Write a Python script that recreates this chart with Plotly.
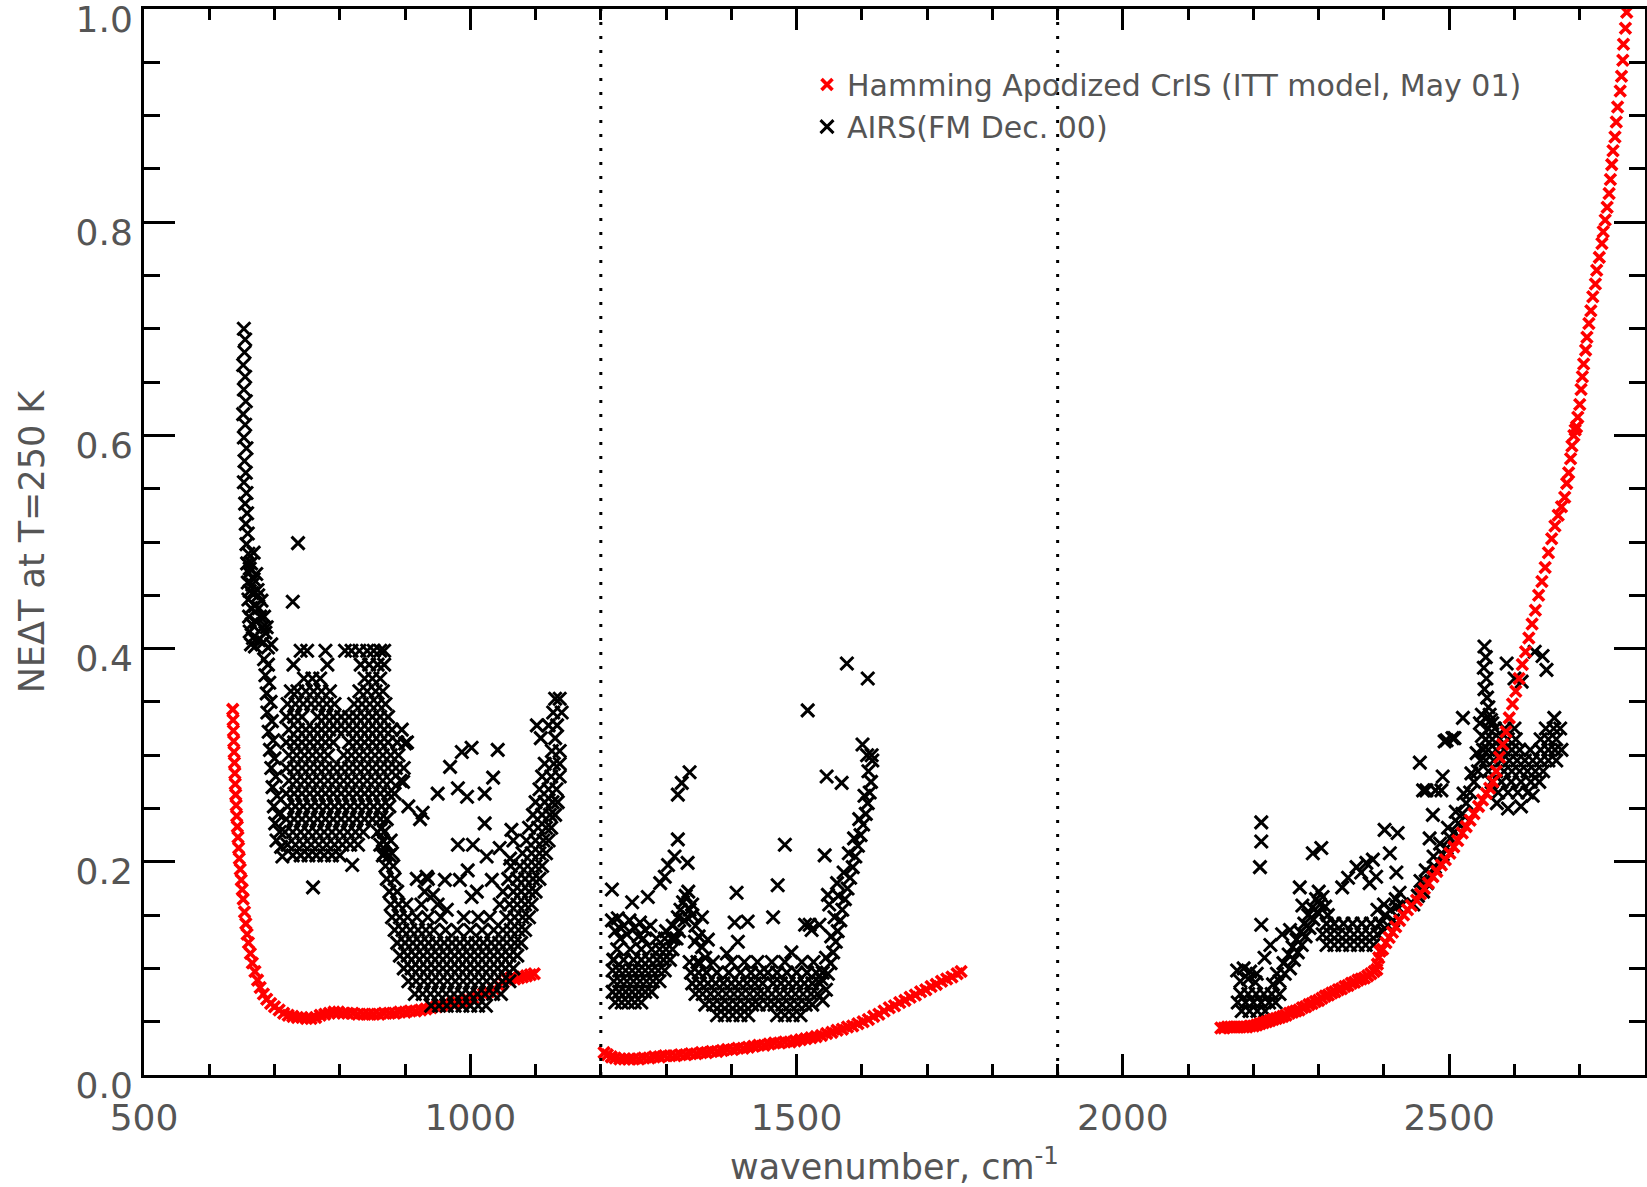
import plotly.graph_objects as go

# ---------------- CrIS (red) : (wavenumber, NEdT) ----------------
cris_band1 = [(636.0,0.343),(636.5,0.333),(637.0,0.323),(637.5,0.313),(638.0,0.303),(638.6,0.293),(639.2,0.283),(639.8,0.273),
              (640.5,0.263),(641.2,0.253),(642.0,0.243),(643.0,0.233),(644.0,0.223),(645.0,0.213),(646.0,0.203),(647.5,0.193),
              (649.0,0.183),(650.5,0.174),(652.0,0.165),(654.0,0.153),(656.0,0.142),(658.0,0.132),(660.0,0.124),(663.0,0.114),
              (666.0,0.105),(670.0,0.097),(674.0,0.089),(678.0,0.082),(683.0,0.076),(688.0,0.071),(694.0,0.067),(700,0.064),
              (707,0.061),(714,0.058),(721,0.056),(728,0.055),(735,0.054),(742,0.054),(749,0.053),(756,0.053),(763,0.054),
              (770,0.056),(777,0.057),(784,0.058),(791,0.059),(798,0.059),(805,0.058),(812,0.058),(820,0.058),(828,0.057),
              (836,0.057),(844,0.057),(852,0.057),(860,0.057),(868,0.058),(876,0.058),(884,0.058),(892,0.059),(900,0.059),
              (908,0.060),(916,0.060),(924,0.061),(932,0.062),(940,0.063),(948,0.064),(956,0.065),(964,0.066),(972,0.067),
              (980,0.068),(988,0.069),(996,0.071),(1004,0.072),(1012,0.074),(1020,0.076),(1028,0.078),(1036,0.081),
              (1044,0.084),(1050,0.087),(1056,0.090),(1062,0.091),(1068,0.090),(1074,0.091),(1080,0.092),(1086,0.093),
              (1092,0.094),(1098,0.095)]

cris_band2 = [(1205,0.021),(1210,0.019),(1216,0.017),(1222,0.016),(1229,0.015),(1236,0.015),(1243,0.015),(1250,0.015),
              (1258,0.015),(1266,0.016),(1274,0.016),(1282,0.017),(1290,0.017),(1298,0.018),(1306,0.018),(1314,0.018),
              (1322,0.019),(1330,0.019),(1338,0.020),(1346,0.020),(1354,0.021),(1362,0.021),(1370,0.022),(1378,0.022),
              (1386,0.023),(1394,0.024),(1402,0.024),(1410,0.025),(1418,0.025),(1426,0.026),(1434,0.027),(1442,0.028),
              (1450,0.028),(1458,0.029),(1466,0.030),(1474,0.030),(1482,0.031),(1490,0.031),(1498,0.032),(1506,0.033),
              (1514,0.034),(1522,0.035),(1530,0.036),(1538,0.037),(1546,0.039),(1554,0.040),(1562,0.042),(1570,0.043),
              (1578,0.045),(1586,0.046),(1594,0.048),(1602,0.050),(1610,0.052),(1618,0.055),(1626,0.057),(1634,0.060),
              (1642,0.063),(1650,0.065),(1658,0.068),(1666,0.070),(1674,0.073),(1682,0.075),(1690,0.078),(1698,0.080),
              (1706,0.083),(1714,0.085),(1722,0.088),(1730,0.090),(1738,0.092),(1746,0.095),(1752,0.097)]

cris_band3 = [(2150,0.044),(2155,0.044),(2160,0.045),(2165,0.045),(2170,0.045),(2175,0.045),(2180,0.045),(2185,0.045),
              (2190,0.045),(2195,0.046),(2200,0.046),(2205,0.047),(2210,0.048),(2215,0.049),(2220,0.050),(2225,0.051),
              (2230,0.052),(2235,0.053),(2240,0.054),(2245,0.055),(2250,0.056),(2255,0.058),(2260,0.059),(2265,0.060),
              (2270,0.061),(2275,0.063),(2280,0.064),(2285,0.066),(2290,0.067),(2295,0.069),(2300,0.070),(2305,0.072),
              (2310,0.074),(2315,0.075),(2320,0.077),(2325,0.078),(2330,0.080),(2335,0.081),(2340,0.083),(2345,0.084),
              (2350,0.086),(2355,0.087),(2360,0.089),(2365,0.090),(2370,0.091),(2375,0.093),(2380,0.095),(2385,0.097),
              (2389,0.099),(2390,0.104),(2392,0.110),(2394,0.116),(2398,0.118),(2403,0.124),(2408,0.129),(2413,0.134),
              (2418,0.139),(2424,0.145),(2430,0.150),(2436,0.155),(2442,0.159),(2450,0.164),(2456,0.170),(2462,0.175),
              (2468,0.180),(2475,0.186),(2481,0.191),(2488,0.197),(2494,0.202),(2501,0.208),(2507,0.214),(2513,0.220),
              (2520,0.227),(2526,0.233),(2532,0.239),(2538,0.245),(2545,0.252),(2551,0.258),(2557,0.264),(2562,0.269),
              (2567,0.275),(2572,0.285),(2577,0.298),(2582,0.310),(2587,0.322),(2592,0.335),(2597,0.348),(2602,0.360),
              (2607,0.372),(2612,0.385),(2617,0.397),(2622,0.410),(2627,0.423),(2632,0.436),(2637,0.450),(2642,0.463),
              (2647,0.476),(2652,0.490),(2657,0.503),(2662,0.515),(2667,0.525),(2672,0.533),(2677,0.542),(2680,0.555),
              (2683,0.565),(2686,0.578),(2688,0.590),(2691,0.600),(2693,0.605),(2695,0.608),(2697,0.617),(2700,0.629),
              (2702,0.643),(2704,0.655),(2706,0.667),(2709,0.680),(2711,0.692),(2714,0.705),(2717,0.717),(2720,0.730),
              (2724,0.742),(2726,0.755),(2730,0.767),(2734,0.780),(2736,0.791),(2739,0.802),(2742,0.814),(2745,0.827),
              (2747,0.840),(2749,0.854),(2751,0.867),(2754,0.880),(2756,0.894),(2758,0.908),(2762,0.923),(2764,0.937),
              (2766,0.952),(2767,0.967),(2770,0.982),(2772,0.997)]

# ---------------- AIRS (black) : (wavenumber, NEdT) ----------------
airs_band1_points = [
    (653,0.700),(655,0.690),(654,0.678),(652,0.666),(655,0.655),(653,0.643),(656,0.632),(652,0.620),(655,0.610),
    (653,0.598),(657,0.588),(654,0.576),(656,0.565),(653,0.556),(657,0.546),(655,0.536),(658,0.527),(656,0.517),
    (659,0.508),(657,0.498),(660,0.489),(658,0.480),(661,0.471),(659,0.462),(662,0.454),(660,0.446),(664,0.438),
    (661,0.430),(665,0.423),(662,0.416),(667,0.410),(664,0.404),(670,0.402),(676,0.408),(683,0.406),(690,0.401),
    (695,0.404),(668,0.490),(672,0.470),(675,0.450),(678,0.430),(682,0.420),(670,0.440),(666,0.460),(664,0.480),
    (672,0.425),(686,0.415),(662,0.475),(668,0.465),(674,0.455),(680,0.445),(666,0.452),(684,0.430),(676,0.438),
    (688,0.420),
    (684,0.390),(690,0.385),(686,0.375),(692,0.368),(688,0.358),(694,0.350),(689,0.340),(696,0.332),(691,0.322),
    (698,0.314),(693,0.305),(700,0.297),(695,0.288),(702,0.280),(697,0.270),(704,0.262),(699,0.252),(706,0.245),
    (701,0.236),(708,0.228),(703,0.220),(710,0.214),(712,0.205),
    (736,0.499),(728,0.444),(759,0.176),(819,0.197),
    (900,0.311),(897,0.275),(927,0.246),(950,0.264),(969,0.289),(987,0.303),(1002,0.307),(1042,0.305),(981,0.269),
    (995,0.261),(1022,0.264),(1035,0.279),(1022,0.236),(981,0.216),(1004,0.216),(1025,0.205),(1045,0.213),
    (1063,0.230),(1061,0.203),(964,0.155),(933,0.186),(961,0.183),(984,0.183),(996,0.192),(1033,0.183),(943,0.169),
    (1002,0.167),(1012,0.148),
]
airs_band1_rows = [
    (0.398, [740, 750, 778, 808, 818, 830, 842, 852, 862, 868]),
    (0.385, [729, 781, 832, 845, 858, 868]),
    (0.372, [745, 758, 770, 838, 850, 862]),
    (0.360, [725, 735, 748, 760, 772, 785, 830, 842, 855, 866]),
    (0.348, [720, 732, 744, 756, 768, 780, 792, 822, 834, 846, 858, 870]),
    (0.336, [718, 730, 742, 766, 778, 790, 802, 814, 826, 838, 850, 862, 874]),
    (0.324, [722, 736, 748, 760, 772, 784, 796, 808, 820, 832, 844, 856, 868, 880, 895]),
    (0.312, [718, 730, 742, 754, 766, 778, 790, 814, 826, 838, 850, 862, 874, 888, 903]),
    (0.300, [722, 734, 746, 758, 770, 782, 806, 818, 830, 842, 854, 866, 878, 890]),
    (0.288, [718, 730, 742, 754, 766, 778, 790, 802, 814, 826, 838, 850, 862, 874, 886, 898]),
    (0.276, [722, 734, 746, 758, 770, 782, 794, 806, 818, 830, 842, 854, 866, 878, 893]),
    (0.264, [718, 730, 742, 754, 766, 778, 790, 802, 814, 826, 838, 850, 862, 874, 884]),
    (0.252, [720, 732, 744, 756, 768, 780, 792, 804, 816, 828, 840, 852, 864, 876, 905]),
    (0.240, [718, 730, 742, 754, 766, 778, 790, 802, 814, 826, 838, 850, 862, 872, 923]),
    (0.228, [716, 728, 740, 752, 764, 776, 788, 800, 812, 824, 836, 858, 868]),
    (0.216, [720, 732, 744, 756, 768, 780, 792, 804, 816, 828, 862, 872]),
    (0.206, [728, 740, 752, 764, 776, 788, 800, 866, 876]),
    (0.065, [940, 952, 964, 976, 988, 1000, 1012, 1024]),
    (0.076, [915, 927, 939, 951, 963, 975, 987, 999, 1011, 1023, 1035, 1047]),
    (0.088, [905, 917, 929, 941, 953, 965, 977, 989, 1001, 1013, 1025, 1037, 1049, 1060]),
    (0.100, [898, 910, 922, 934, 946, 958, 970, 982, 994, 1006, 1018, 1030, 1042, 1054, 1066]),
    (0.112, [892, 904, 916, 928, 940, 952, 964, 976, 988, 1000, 1012, 1024, 1036, 1048, 1060, 1072]),
    (0.124, [888, 900, 912, 924, 936, 948, 960, 972, 984, 996, 1008, 1020, 1032, 1044, 1056, 1068, 1078]),
    (0.136, [884, 896, 908, 920, 932, 944, 962, 980, 1000, 1018, 1036, 1050, 1062, 1074, 1084]),
    (0.148, [880, 892, 904, 918, 935, 955, 990, 1030, 1055, 1068, 1080, 1090]),
    (0.160, [878, 890, 902, 925, 950, 1045, 1060, 1072, 1084, 1094]),
    (0.172, [876, 888, 930, 1010, 1050, 1066, 1078, 1090, 1100]),
    (0.184, [872, 884, 918, 935, 1058, 1072, 1084, 1096, 1106]),
    (0.196, [870, 882, 1062, 1076, 1088, 1100, 1110]),
    (0.208, [868, 880, 1080, 1094, 1106, 1116]),
    (0.220, [866, 878, 1066, 1086, 1100, 1112, 1120]),
    (0.232, [864, 1090, 1104, 1116, 1124]),
    (0.244, [1096, 1110, 1122, 1130]),
    (0.256, [1100, 1114, 1126, 1134]),
    (0.268, [1106, 1120, 1132]),
    (0.280, [1110, 1124, 1137]),
    (0.292, [1114, 1128, 1137]),
    (0.304, [1125, 1137]),
    (0.316, [1108, 1130]),
    (0.328, [1102, 1120, 1133]),
    (0.340, [1127, 1140]),
    (0.353, [1130, 1137]),
]

airs_band2_points = [
    (1217,0.145),(1226,0.147),(1235,0.140),(1244,0.145),(1252,0.138),(1260,0.143),(1268,0.136),(1276,0.140),
    (1222,0.135),(1240,0.132),(1258,0.130),
    (1300,0.135),(1310,0.140),(1318,0.148),(1322,0.155),(1326,0.162),(1330,0.168),(1334,0.172),(1312,0.128),
    (1320,0.135),(1328,0.145),(1336,0.155),(1340,0.160),
    (1217,0.174),(1248,0.162),(1272,0.167),(1291,0.180),(1298,0.186),(1303,0.197),(1313,0.205),(1318,0.221),
    (1333,0.199),(1318,0.263),(1324,0.274),(1336,0.284),(1219,0.108),
    (1340,0.150),(1345,0.140),(1350,0.130),(1355,0.120),(1360,0.110),(1344,0.125),(1352,0.105),(1355,0.148),
    (1364,0.127),
    (1408,0.171),(1405,0.143),(1425,0.144),(1410,0.125),(1393,0.114),(1471,0.178),(1464,0.148),(1482,0.216),
    (1492,0.115),(1513,0.141),(1523,0.136),(1535,0.141),
    (1540,0.070),(1545,0.080),(1538,0.090),(1548,0.095),(1552,0.105),(1545,0.110),(1556,0.115),(1560,0.125),
    (1553,0.130),(1563,0.135),(1567,0.145),(1558,0.148),(1570,0.155),(1574,0.165),(1564,0.168),(1578,0.175),
    (1582,0.185),(1572,0.190),(1586,0.195),(1590,0.205),(1580,0.208),(1594,0.215),(1598,0.225),(1588,0.222),
    (1602,0.235),(1606,0.245),(1596,0.240),(1609,0.255),(1612,0.265),(1604,0.262),(1614,0.275),(1610,0.285),
    (1616,0.295),(1608,0.300),(1550,0.160),(1562,0.180),
    (1577,0.386),(1609,0.372),(1517,0.342),(1546,0.280),(1569,0.274),(1601,0.310),(1615,0.300),(1543,0.206),
    (1548,0.169),(1520,0.141),
]
airs_band2_rows = [
    (0.068, [1222, 1232, 1242, 1252, 1262]),
    (0.078, [1218, 1228, 1238, 1248, 1258, 1268, 1278]),
    (0.088, [1220, 1230, 1240, 1250, 1260, 1270, 1280, 1290]),
    (0.098, [1218, 1228, 1238, 1248, 1258, 1268, 1278, 1288, 1298]),
    (0.108, [1220, 1235, 1250, 1262, 1274, 1286, 1296, 1306]),
    (0.118, [1225, 1245, 1262, 1278, 1290, 1300, 1310]),
    (0.128, [1230, 1265, 1285, 1298, 1308, 1316]),
    (0.056, [1378, 1390, 1402, 1414, 1426, 1470, 1482, 1494, 1506]),
    (0.066, [1360, 1372, 1384, 1396, 1408, 1420, 1432, 1442, 1455, 1466, 1478, 1490, 1502, 1514, 1524]),
    (0.076, [1345, 1356, 1368, 1380, 1392, 1404, 1416, 1428, 1440, 1450, 1462, 1474, 1486, 1498, 1510, 1522, 1532]),
    (0.086, [1340, 1352, 1364, 1376, 1388, 1400, 1412, 1424, 1436, 1448, 1464, 1476, 1488, 1500, 1512, 1524, 1536]),
    (0.096, [1338, 1350, 1362, 1378, 1396, 1414, 1430, 1444, 1456, 1470, 1485, 1500, 1516, 1530, 1540]),
    (0.106, [1336, 1348, 1372, 1400, 1420, 1440, 1462, 1482, 1508, 1526]),
]

airs_band3_points = [
    (2175,0.098),(2185,0.100),(2195,0.097),(2205,0.095),(2180,0.088),(2192,0.090),(2203,0.087),
    (2230,0.085),(2240,0.088),(2248,0.095),(2236,0.095),(2256,0.100),(2246,0.105),(2262,0.108),(2254,0.113),
    (2268,0.115),(2260,0.120),(2274,0.122),(2266,0.127),(2280,0.130),(2272,0.134),(2286,0.138),(2278,0.142),
    (2292,0.146),(2284,0.150),(2298,0.153),(2290,0.157),(2302,0.160),(2296,0.165),(2306,0.167),(2300,0.172),
    (2310,0.158),(2314,0.150),
    (2212,0.237),(2212,0.219),(2210,0.195),(2212,0.141),(2217,0.110),(2291,0.208),(2304,0.213),(2271,0.176),
    (2275,0.159),(2256,0.136),(2244,0.132),(2226,0.122),
    (2398,0.135),(2406,0.140),(2414,0.145),(2402,0.150),(2410,0.155),(2420,0.158),(2390,0.155),(2400,0.160),
    (2428,0.160),(2418,0.165),
    (2336,0.176),(2358,0.195),(2373,0.199),(2383,0.202),(2388,0.186),(2345,0.185),(2365,0.190),(2378,0.180),
    (2401,0.230),(2421,0.227),(2409,0.208),(2419,0.190),(2424,0.171),
    (2445,0.160),(2452,0.168),(2460,0.172),(2456,0.182),(2466,0.180),(2472,0.188),(2464,0.192),(2478,0.195),
    (2484,0.200),(2476,0.205),(2490,0.207),(2496,0.213),(2486,0.217),(2502,0.222),(2508,0.228),(2498,0.232),
    (2514,0.236),(2520,0.245),(2510,0.247),(2526,0.255),(2532,0.265),(2522,0.264),(2538,0.275),(2544,0.285),
    (2534,0.283),(2548,0.295),(2552,0.305),(2542,0.302),(2556,0.315),(2560,0.325),(2550,0.318),(2564,0.333),
    (2455,0.293),(2465,0.267),(2475,0.244),(2470,0.222),(2488,0.267),(2490,0.280),(2496,0.314),(2508,0.316),
    (2521,0.335),(2547,0.330),(2493,0.313),(2505,0.316),(2460,0.267),(2479,0.267),
    (2554,0.402),(2556,0.392),(2553,0.382),(2557,0.372),(2554,0.362),(2558,0.354),(2560,0.345),(2550,0.338),
    (2562,0.338),(2566,0.330),
    (2588,0.386),(2600,0.372),(2611,0.369),(2631,0.397),(2643,0.393),(2649,0.380),
    (2573,0.255),(2590,0.250),(2610,0.252),(2628,0.262),(2661,0.335),
]
airs_band3_rows = [
    (0.060, [2182, 2194, 2206, 2218]),
    (0.068, [2176, 2188, 2200, 2212, 2224, 2234]),
    (0.076, [2180, 2192, 2204, 2216, 2228, 2240]),
    (0.122, [2312, 2324, 2336, 2348, 2360, 2372, 2384]),
    (0.132, [2306, 2318, 2330, 2342, 2354, 2366, 2378, 2390]),
    (0.142, [2312, 2324, 2338, 2352, 2366, 2380, 2394]),
    (0.265, [2575, 2590, 2605, 2620]),
    (0.275, [2565, 2580, 2595, 2610, 2625, 2638]),
    (0.285, [2560, 2572, 2584, 2596, 2608, 2620, 2632, 2644]),
    (0.295, [2556, 2568, 2580, 2592, 2604, 2616, 2628, 2640, 2652, 2664]),
    (0.305, [2560, 2572, 2584, 2596, 2608, 2624, 2640, 2652, 2662, 2672]),
    (0.315, [2566, 2578, 2590, 2602, 2640, 2652, 2664]),
    (0.325, [2570, 2585, 2600, 2648, 2660, 2670]),
]

band_edges = [1200, 1900]
x_ticks = [500, 1000, 1500, 2000, 2500]
y_ticks = [0.0, 0.2, 0.4, 0.6, 0.8, 1.0]

legend_labels = ["Hamming Apodized CrIS (ITT model, May 01)", "AIRS(FM Dec. 00)"]


def unzip(pairs):
    return [p[0] for p in pairs], [p[1] for p in pairs]


def rows_to_pairs(rows):
    out = []
    for ne, wns in rows:
        for wn in wns:
            out.append((wn, ne))
    return out


cx12, cy12 = unzip(cris_band1 + cris_band2)
cx3, cy3 = unzip(cris_band3)

airs_all = (airs_band1_points + rows_to_pairs(airs_band1_rows) +
            airs_band2_points + rows_to_pairs(airs_band2_rows) +
            airs_band3_points + rows_to_pairs(airs_band3_rows))
ax_, ay_ = unzip(airs_all)

FONT = "DejaVu Sans"
GREY = "#555555"

red_marker = dict(symbol="x-thin", size=11, color="#ff0000", line=dict(color="#ff0000", width=3.6))
black_marker = dict(symbol="x-thin", size=13, color="black", line=dict(color="black", width=3))

fig = go.Figure()
fig.add_trace(go.Scatter(x=cx12, y=cy12, mode="markers", marker=red_marker,
                         name=legend_labels[0], legendgroup="cris", legendrank=1))
fig.add_trace(go.Scatter(x=ax_, y=ay_, mode="markers", marker=black_marker,
                         name=legend_labels[1], legendrank=2))
fig.add_trace(go.Scatter(x=cx3, y=cy3, mode="markers", marker=red_marker,
                         name=legend_labels[0], legendgroup="cris", showlegend=False))

for xe in band_edges:
    fig.add_vline(x=xe, line=dict(color="black", width=3, dash="3px,11px"))

axis_common = dict(
    ticks="inside", tickcolor="black", tickwidth=2.5,
    showline=True, linecolor="black", linewidth=3, mirror="ticks",
    showgrid=False, zeroline=False, ticklabeloverflow="allow",
    tickfont=dict(family=FONT, size=36, color=GREY),
)

fig.update_layout(
    width=1647, height=1187,
    margin=dict(l=144, r=2, t=9, b=112, autoexpand=False),
    paper_bgcolor="white", plot_bgcolor="white",
    font=dict(family=FONT, color=GREY),
    showlegend=True,
    legend=dict(x=0.4417, y=0.9535, xanchor="left", yanchor="top",
                bgcolor="rgba(0,0,0,0)", borderwidth=0, tracegroupgap=0,
                font=dict(family=FONT, size=30, color=GREY), itemwidth=30),
    xaxis=dict(range=[500, 2800], tickvals=x_ticks, ticktext=[str(v) for v in x_ticks],
               ticklen=21, ticklabelstandoff=9,
               minor=dict(dtick=100, tick0=500, ticklen=11, tickwidth=2.5, tickcolor="black", ticks="inside"),
               title=dict(text="wavenumber, cm<sup>-1</sup>", font=dict(family=FONT, size=35, color=GREY), standoff=19),
               **axis_common),
    yaxis=dict(range=[0, 1], tickvals=y_ticks, tickformat=".1f",
               ticklen=31, ticklabelstandoff=1, ticklabelshift=10,
               minor=dict(dtick=0.05, tick0=0, ticklen=16, tickwidth=2.5, tickcolor="black", ticks="inside"),
               title=dict(text="NEΔT at T=250 K", font=dict(family=FONT, size=35, color=GREY), standoff=21),
               **axis_common),
)

fig.write_html("out.html")
